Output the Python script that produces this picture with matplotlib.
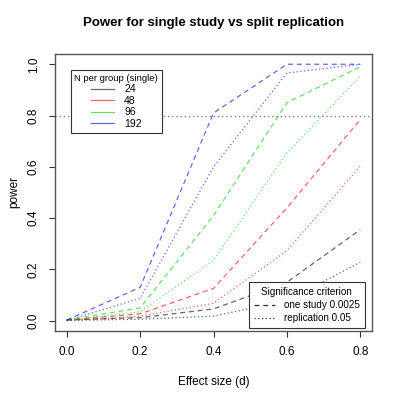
import matplotlib
matplotlib.use("Agg")
import matplotlib.pyplot as plt
from matplotlib.lines import Line2D

d = [0.0, 0.2, 0.4, 0.6, 0.8]
n_labels = ["24", "48", "96", "192"]
colors = ["black", "red", "#00CC00", "blue"]

# power, one study at alpha 0.0025
single = [
    [0.003, 0.012, 0.046, 0.15, 0.355],
    [0.003, 0.027, 0.126, 0.44, 0.784],
    [0.003, 0.05, 0.41, 0.85, 0.99],
    [0.003, 0.13, 0.81, 1.0, 1.0],
]
# power, two half-size studies each at 0.05
replication = [
    [0.001, 0.006, 0.018, 0.078, 0.228],
    [0.001, 0.018, 0.068, 0.273, 0.603],
    [0.001, 0.035, 0.235, 0.655, 0.953],
    [0.001, 0.087, 0.60, 0.966, 1.0],
]

plt.rcParams["font.family"] = ["Liberation Sans", "DejaVu Sans"]
fig = plt.figure(figsize=(4, 4), dpi=100)
ax = fig.add_axes([0.1375, 0.1725, 0.7925, 0.6925])

ax.axhline(0.8, color="grey", ls=(0, (1, 2)), lw=1)
for i in range(4):
    ax.plot(d, single[i], color=colors[i], ls=(0, (4, 3)), lw=0.9, alpha=0.6)
    ax.plot(d, replication[i], color=colors[i], ls=(0, (1, 2)), lw=0.9, alpha=0.6)

ax.set_xlim(-0.032, 0.832)
ax.set_ylim(-0.04, 1.04)
ax.set_xticks(d)
ax.set_xticklabels(["0.0", "0.2", "0.4", "0.6", "0.8"])
ax.set_yticks([0, 0.2, 0.4, 0.6, 0.8, 1.0])
ax.set_yticklabels(["0.0", "0.2", "0.4", "0.6", "0.8", "1.0"], rotation=90, va="center")
ax.tick_params(labelsize=8.5, length=4, pad=7, color="#333333")
for s in ax.spines.values():
    s.set_color("#555555")
    s.set_linewidth(1)

ax.set_title("Power for single study vs split replication", fontsize=9.5, fontweight="bold", pad=20)
ax.set_xlabel("Effect size (d)", fontsize=8.5, labelpad=13)
ax.set_ylabel("power", fontsize=8.5, labelpad=5)

h1 = [Line2D([], [], color=c, lw=0.9, alpha=0.6) for c in colors]
leg1 = ax.legend(h1, n_labels, title="N per group (single)", loc="upper left",
                 bbox_to_anchor=(0.05, 0.942), borderaxespad=0, fontsize=7.5, title_fontsize=6.8,
                 frameon=True, fancybox=False, edgecolor="#333333", framealpha=1,
                 handlelength=2.2, labelspacing=0.15, borderpad=0.35, handletextpad=1.0)
leg1.get_frame().set_linewidth(0.8)
ax.add_artist(leg1)

h2 = [Line2D([], [], color="#333333", ls=(0, (4, 3)), lw=0.9),
      Line2D([], [], color="#333333", ls=(0, (1, 2)), lw=0.9)]
leg2 = ax.legend(h2, ["one study 0.0025", "replication 0.05"], title="Significance criterion",
                 loc="lower right", bbox_to_anchor=(0.978, 0.011), borderaxespad=0,
                 fontsize=7.1, title_fontsize=7.1, framealpha=1,
                 frameon=True, fancybox=False, edgecolor="#333333",
                 handlelength=2.2, labelspacing=0.3, borderpad=0.5, handletextpad=0.9)
leg2.get_frame().set_linewidth(0.8)

fig.savefig("out.png", dpi=100)
